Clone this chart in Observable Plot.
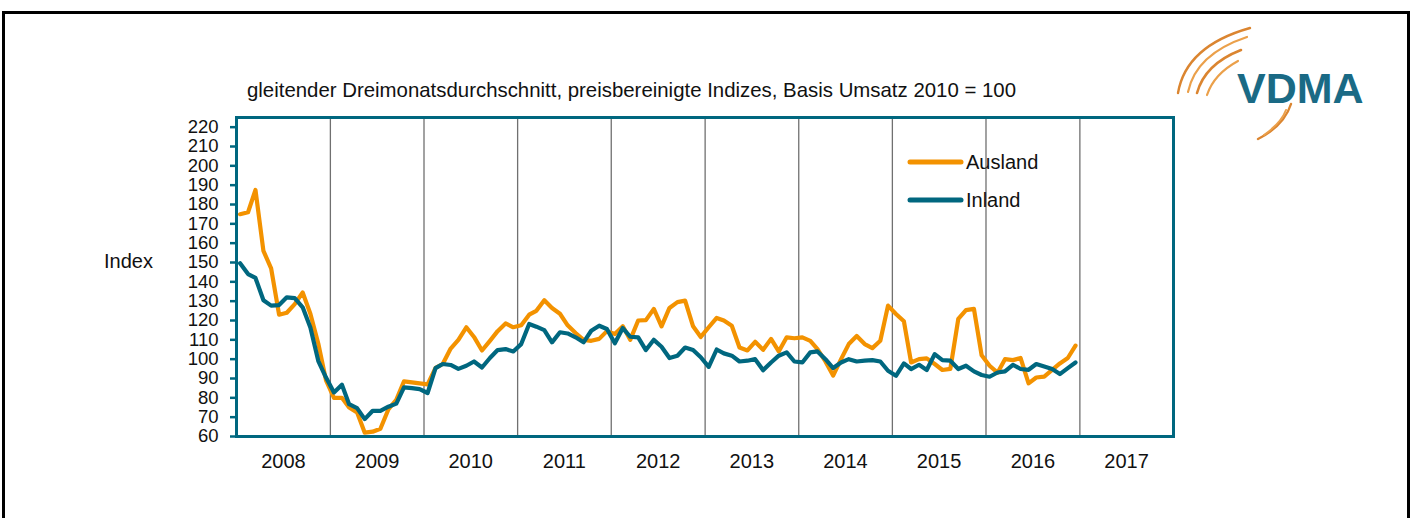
<!DOCTYPE html>
<html>
<head>
<meta charset="utf-8">
<script src="https://cdn.jsdelivr.net/npm/d3@7"></script>
<script src="https://cdn.jsdelivr.net/npm/@observablehq/plot@0.6"></script>
<style>
  html, body { margin: 0; padding: 0; background: #fff; }
  #wrap { position: relative; width: 1416px; height: 518px; overflow: hidden; font-family: "Liberation Sans", Arial, sans-serif; }
  #frame { position: absolute; left: 2px; top: 11px; width: 1408px; height: 520px; border: 3px solid #000; box-sizing: border-box; }
  #title { position: absolute; left: 247px; top: 79px; font-size: 20.4px; color: #111; white-space: nowrap; }
  #ylab { position: absolute; left: 104px; top: 250px; font-size: 20px; color: #111; }
  #chart { position: absolute; left: 0; top: 0; }
  #overlay { position: absolute; left: 0; top: 0; }
</style>
</head>
<body>
<div id="wrap">
  <div id="frame"></div>
  <div id="chart"></div>
  <div id="title">gleitender Dreimonatsdurchschnitt, preisbereinigte Indizes, Basis Umsatz 2010 = 100</div>
  <div id="ylab">Index</div>
  <svg id="overlay" width="1416" height="518"></svg>
</div>
<script>
// Series (monthly, Jan 2008 – Dec 2016)
const seriesNames = ["Ausland", "Inland"];
const ausland = [
  175, 176, 187.5, 156, 147, 123, 124, 128.5, 134.5, 123.5, 108, 89,
  80, 80, 75, 72.5, 62, 62.5, 64, 74, 79, 88.5, 88, 87.5,
  87, 95.5, 97.5, 105.5, 110, 116.5, 111.5, 104.5, 109.5, 114.5, 118.5, 116.5,
  117.5, 123, 125, 130.5, 126.5, 123.5, 117.5, 113.5, 110, 109.5, 110.5, 114.5,
  113, 117, 110, 120, 120.2, 126, 117, 126.5, 129.5, 130.3, 117, 111.5,
  116.5, 121.3, 120, 117.3, 106, 104.5, 109, 104.8, 110.5, 104, 111.3, 110.8,
  111.3, 109.5, 105.2, 98.8, 91.5, 100, 107.8, 112, 107.8, 105.7, 109.5, 127.7,
  123.4, 119.6, 98.3, 100, 100.4, 97.5, 94.4, 95, 120.8, 125.4, 126, 102,
  96.6, 93, 100, 99.5, 100.6, 87.5, 90.5, 91, 94.4, 97.8, 100.6, 107
];
const inland = [
  149.6, 144, 142, 130.5, 127.7, 128, 132, 131.6, 126.8, 116.4, 99, 90.5,
  82.8, 86.8, 76.7, 74.7, 69, 73.3, 73.3, 75.4, 77, 85.4, 85, 84.5,
  82.5, 95.4, 97.5, 97, 95, 96.6, 98.8, 95.7, 100.6, 104.7, 105.2, 104,
  107.8, 118.2, 116.8, 115, 108.7, 113.9, 113.3, 111.3, 108.7, 114.7, 117.3, 115.6,
  108.2, 116.1, 111.6, 111.3, 104.7, 110, 106.4, 100.6, 101.8, 106, 104.7, 101,
  96, 105, 103, 101.8, 98.8, 99.2, 100, 94.3, 98.3, 101.8, 103.5, 98.8,
  98.3, 103.5, 104, 100, 95.4, 98.3, 100, 98.8, 99.2, 99.5, 98.8, 94,
  91.4, 97.8, 94.9, 97.1, 94.4, 102.6, 99.5, 99.2, 94.9, 96.6, 93.7, 91.8,
  90.9, 93.1, 93.7, 97.1, 94.9, 94.5, 97.5, 96.2, 94.9, 92.3, 95.4, 98.3
];
const years = [2008, 2009, 2010, 2011, 2012, 2013, 2014, 2015, 2016, 2017];
const yTicks = [60, 70, 80, 90, 100, 110, 120, 130, 140, 150, 160, 170, 180, 190, 200, 210, 220];

const ORANGE = "#F39200";
const TEAL = "#00677F";

const startYear = years[0];
const monthDate = i => new Date(Date.UTC(startYear, i, 15));
const rows = [];
ausland.forEach((v, i) => rows.push({date: monthDate(i), value: v, series: "Ausland"}));
inland.forEach((v, i) => rows.push({date: monthDate(i), value: v, series: "Inland"}));

const yearStart = y => new Date(Date.UTC(y, 0, 1));
const boundaries = years.slice(1).map(yearStart);
const midYears = years.map(y => new Date(Date.UTC(y, 6, 2)));

const plot = Plot.plot({
  width: 1416,
  height: 518,
  marginLeft: 236,
  marginRight: 243,
  marginTop: 117,
  marginBottom: 82,
  style: {fontFamily: "Liberation Sans, Arial, sans-serif", color: "#111", background: "transparent"},
  x: {type: "utc", domain: [yearStart(years[0]), yearStart(years[years.length - 1] + 1)]},
  y: {domain: [60, 225]},
  color: {domain: seriesNames, range: [ORANGE, TEAL]},
  marks: [
    Plot.ruleX(boundaries, {stroke: "#707070", strokeWidth: 1.3}),
    Plot.line(rows, {x: "date", y: "value", z: "series", stroke: "series", strokeWidth: 4.2, strokeLinejoin: "round", strokeLinecap: "round"}),
    Plot.frame({stroke: TEAL, strokeWidth: 3}),
    Plot.axisY({ticks: yTicks, tickSize: 6, tickPadding: 12, stroke: TEAL, strokeWidth: 2.5, fontSize: 18.5, label: null, tickFormat: d => String(d)}),
    Plot.axisX({ticks: midYears, tickSize: 0, tickPadding: 17, fontSize: 20, label: null, tickFormat: d => String(d.getUTCFullYear())})
  ]
});
document.getElementById("chart").appendChild(plot);

// Legend and logo overlay
const svg = d3.select("#overlay");
const legend = [{name: seriesNames[0], color: ORANGE, y: 162}, {name: seriesNames[1], color: TEAL, y: 200}];
legend.forEach(l => {
  svg.append("line").attr("x1", 910).attr("x2", 961).attr("y1", l.y).attr("y2", l.y)
    .attr("stroke", l.color).attr("stroke-width", 5).attr("stroke-linecap", "round");
  svg.append("text").attr("x", 966).attr("y", l.y + 7).attr("font-size", 20)
    .attr("font-family", "Liberation Sans, Arial, sans-serif").attr("fill", "#111").text(l.name);
});

// VDMA logo
const arcs = [
  ["M1178,93 Q1186,46 1250,28", 2.4],
  ["M1188,92 Q1196,54 1247,37", 2.2],
  ["M1197,93 Q1205,64 1241,50", 2.6],
  ["M1207,95 Q1214,74 1238,61", 2.2],
  ["M1258,139 Q1284,126 1291,104", 2.4],
  ["M1264,135 Q1281,123 1286,110", 2.0]
];
arcs.forEach(([d, w], i) => {
  svg.append("path").attr("d", d).attr("fill", "none")
    .attr("stroke", i % 2 ? "#EBA04A" : "#DB8530").attr("stroke-width", w).attr("stroke-linecap", "round");
});
svg.append("text").attr("x", 1237).attr("y", 103).attr("font-size", 43).attr("font-weight", "bold")
  .attr("font-family", "Liberation Sans, Arial, sans-serif").attr("fill", "#1A6A85").text("VDMA");
</script>
</body>
</html>
